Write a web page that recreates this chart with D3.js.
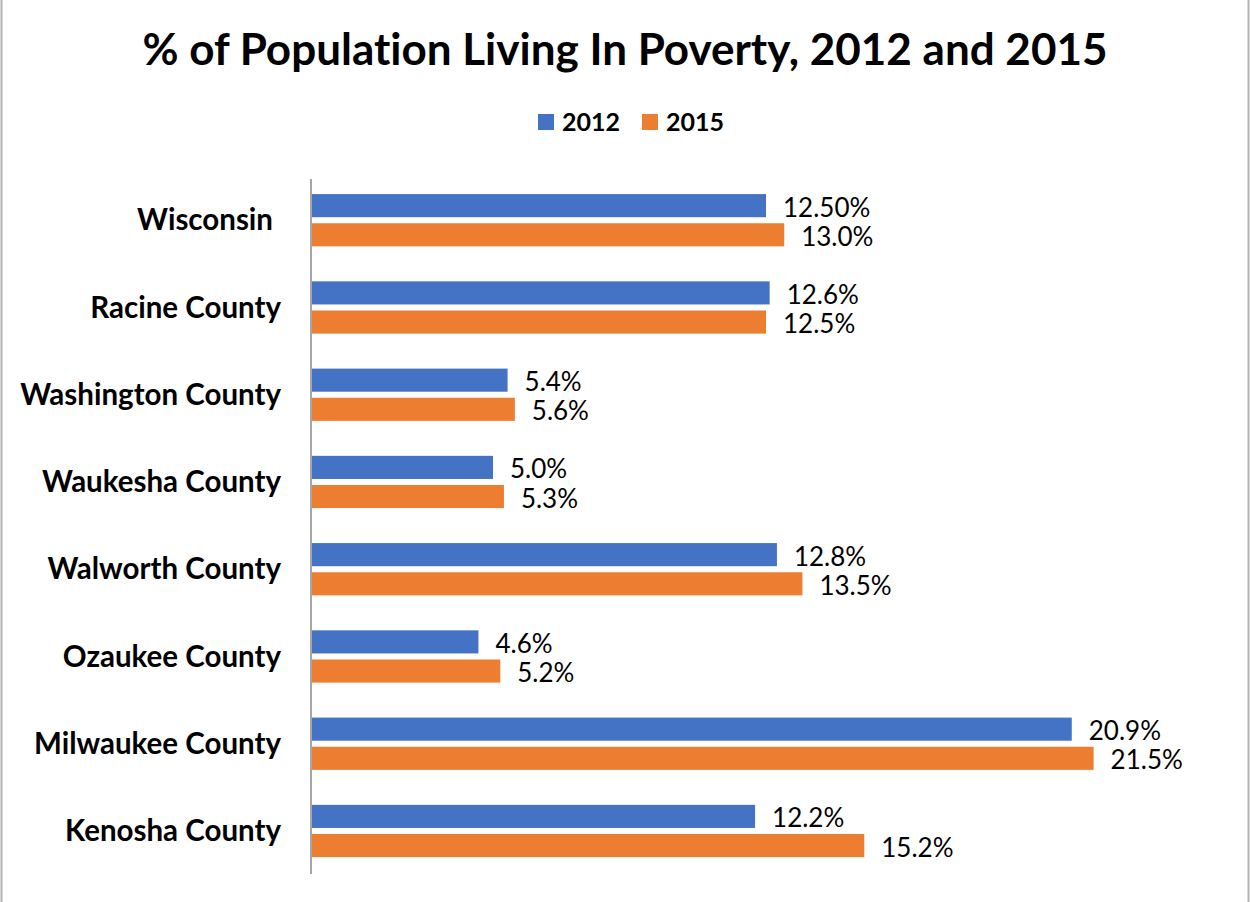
<!DOCTYPE html>
<html>
<head>
<meta charset="utf-8">
<script src="https://cdn.jsdelivr.net/npm/d3@7"></script>
<style>
  html, body { margin: 0; padding: 0; background: #fff; }
  svg { display: block; }
  text { font-variant-ligatures: none; font-feature-settings: "liga" 0; }
</style>
</head>
<body>
<svg id="chart" width="1250" height="902"></svg>
<script>
// Poverty rates by area, two survey years
const categories = ["Wisconsin", "Racine County", "Washington County", "Waukesha County",
                    "Walworth County", "Ozaukee County", "Milwaukee County", "Kenosha County"];
const seriesNames = ["2012", "2015"];
const values2012 = [12.5, 12.6, 5.4, 5.0, 12.8, 4.6, 20.9, 12.2];
const values2015 = [13.0, 12.5, 5.6, 5.3, 13.5, 5.2, 21.5, 15.2];
const labels2012 = ["12.50%", "12.6%", "5.4%", "5.0%", "12.8%", "4.6%", "20.9%", "12.2%"];
const labels2015 = ["13.0%", "12.5%", "5.6%", "5.3%", "13.5%", "5.2%", "21.5%", "15.2%"];
const colors = ["#4472C4", "#ED7D31"];

const FONT = "Lato, 'Open Sans', sans-serif";

const svg = d3.select("#chart");

svg.append("rect").attr("width", 1250).attr("height", 902).attr("fill", "#fff");
// Chart-area frame (left and right edges)
svg.append("line").attr("x1", 1.5).attr("x2", 1.5).attr("y1", 0).attr("y2", 902)
  .attr("stroke", "#b3b3b3").attr("stroke-width", 2);
svg.append("line").attr("x1", 1248.5).attr("x2", 1248.5).attr("y1", 0).attr("y2", 902)
  .attr("stroke", "#b3b3b3").attr("stroke-width", 2);

// Title
svg.append("text")
  .attr("x", 625).attr("y", 65)
  .attr("text-anchor", "middle")
  .attr("font-family", FONT).attr("font-weight", 700).attr("font-size", 44)
  .attr("fill", "#000")
  .text("% of Population Living In Poverty, 2012 and 2015");

// Legend
const legendItems = [{ name: seriesNames[0], x: 538 }, { name: seriesNames[1], x: 642 }];
const lg = svg.append("g");
legendItems.forEach((d, i) => {
  lg.append("rect").attr("x", d.x).attr("y", 114).attr("width", 16).attr("height", 16)
    .attr("fill", colors[i]);
  lg.append("text").attr("x", d.x + 24).attr("y", 131)
    .attr("font-family", FONT).attr("font-weight", 700).attr("font-size", 25)
    .attr("fill", "#000").text(d.name);
});

// Scales
const x = d3.scaleLinear().domain([0, 25]).range([311, 311 + 25 * 36.4]);
const y0 = d3.scaleBand().domain(categories).range([178, 876]);
const y1 = d3.scaleBand().domain(seriesNames).range([0, y0.bandwidth()])
  .paddingInner(0.207).paddingOuter(0.6).align(0.46);

const rows = categories.map((c, i) => ({
  cat: c,
  bars: [
    { s: seriesNames[0], v: values2012[i], label: labels2012[i] },
    { s: seriesNames[1], v: values2015[i], label: labels2015[i] }
  ]
}));

const groups = svg.append("g").selectAll("g").data(rows).join("g")
  .attr("transform", d => `translate(0,${y0(d.cat)})`);

groups.selectAll("rect").data(d => d.bars).join("rect")
  .attr("x", x(0))
  .attr("y", d => y1(d.s))
  .attr("width", d => x(d.v) - x(0))
  .attr("height", y1.bandwidth())
  .attr("fill", (d, i) => colors[i]);

groups.selectAll("text.val").data(d => d.bars).join("text")
  .attr("class", "val")
  .attr("x", d => x(d.v) + 17)
  .attr("y", d => y1(d.s) + y1.bandwidth() / 2 + 1)
  .attr("dominant-baseline", "central")
  .attr("font-family", FONT).attr("font-size", 26)
  .attr("fill", "#000")
  .text(d => d.label);

// Category axis (vertical line, no ticks)
const yAxis = d3.axisLeft(y0).tickSize(0).tickPadding(30);
const axisG = svg.append("g").attr("transform", `translate(${x(0)},0)`).call(yAxis);
axisG.select(".domain").attr("stroke", "#a6a6a6").attr("stroke-width", 2)
  .attr("d", "M0,179V874");
axisG.selectAll(".tick text")
  .attr("font-family", FONT).attr("font-weight", 700).attr("font-size", 29.5)
  .attr("fill", "#000")
  .attr("dy", "0.3em")
  .attr("dx", d => d === "Wisconsin" ? -8 : 0);
</script>
</body>
</html>
